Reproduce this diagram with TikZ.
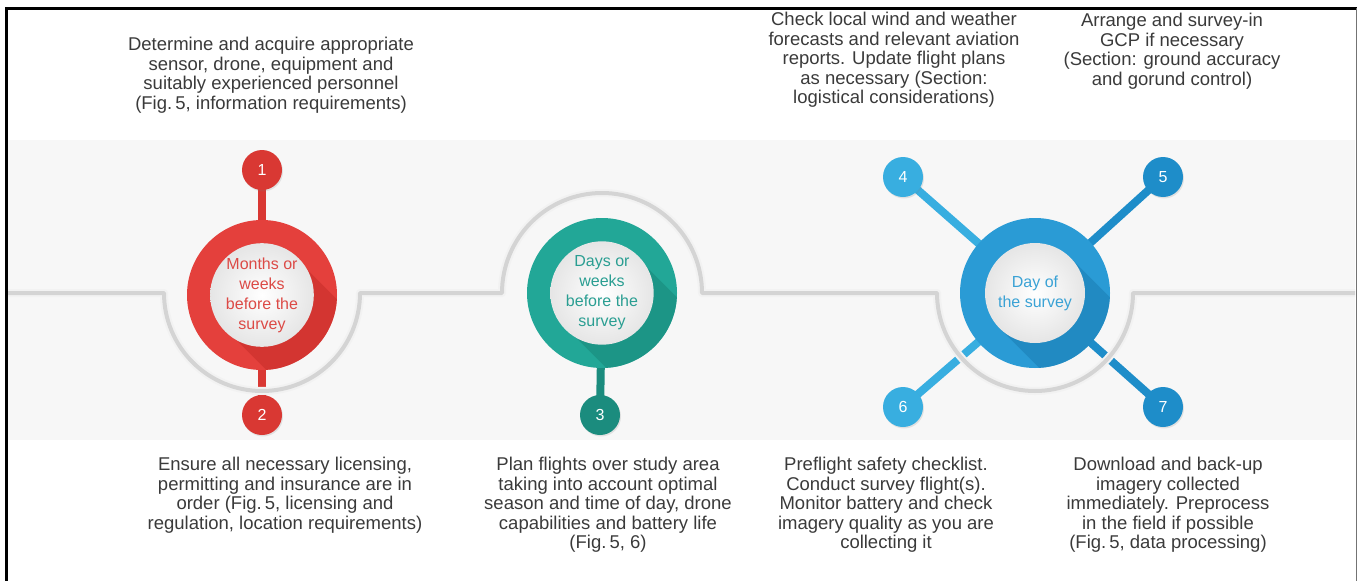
\documentclass[tikz,border=0pt]{standalone}
\usepackage{fontspec}
\setmainfont{Liberation Sans}
\usetikzlibrary{calc,shadows}
\definecolor{notegray}{HTML}{3A3A3A}
\definecolor{redring}{HTML}{E4403C}
\definecolor{redshade}{HTML}{C92E2B}
\definecolor{redbadge}{HTML}{D93833}
\definecolor{redtext}{HTML}{DC4A46}
\definecolor{tealring}{HTML}{22A797}
\definecolor{tealshade}{HTML}{188A7C}
\definecolor{tealbadge}{HTML}{1B8C7E}
\definecolor{tealtext}{HTML}{2A9E92}
\definecolor{bluering}{HTML}{2A9BD5}
\definecolor{blueshade}{HTML}{1C7FB6}
\definecolor{bluelite}{HTML}{38AEE0}
\definecolor{bluedark}{HTML}{1E8DC9}
\definecolor{bluetext}{HTML}{3AA2D5}
\tikzset{
  ring/.style={
    % The shape:
    circle,
    % The size:
    minimum size=150pt, inner sep=0pt,
    % The filling:
    fill=#1},
  core/.style={
    % The shape:
    circle,
    minimum size=100pt, inner sep=0pt,
    % The rest
    inner color=white, outer color=black!10,
    text=#1, align=center, font=\fontsize{16}{20}\selectfont},
  badge/.style={
    % The shape:
    circle,
    minimum size=40pt, inner sep=0pt,
    % The rest
    fill=#1, text=white, font=\fontsize{16}{16}\selectfont,
    drop shadow={opacity=0.18, shadow xshift=1pt, shadow yshift=-1.5pt}},
  note/.style={
    align=center, inner sep=0pt,
    text=notegray, font=\fontsize{18.5}{19.5}\selectfont},
  stem/.style={line width=8pt, draw=#1},
  timeline/.style={line width=#1, line join=round}
}
% neck between a badge and its stem
\newcommand\neck[3]{%
  \fill[#3] ($(#1)!17pt!40:(#2)$) to[bend right=30] ($(#1)!31pt!(#2)$)
    to[bend right=30] ($(#1)!17pt!-40:(#2)$) -- cycle;}
% darker cast shadow inside a ring
\newcommand\ringshade[2]{%
  \begin{scope}
    \clip (#1) circle[radius=75pt];
    \fill[#2,opacity=0.6] ($(#1)+(45:50pt)$) -- ++(-45:130pt)
      -- ($(#1)+(225:50pt)+(-45:130pt)$) -- ($(#1)+(225:50pt)$) -- cycle;
  \end{scope}}

\begin{document}
\begin{tikzpicture}[x=1pt,y=1pt]
  \useasboundingbox (0,0) rectangle (1358,-581);
  % background band
  \fill[black!3] (8,-140) rectangle (1355,-440);
  % frame
  \draw[line width=3pt] (6,-581) -- (6,-8) -- (1357,-8);
  \draw[black!55,line width=1pt] (1356,-8) -- (1356,-581);

  % centres and badge places
  \coordinate (c1) at (262,-295);
  \coordinate (c2) at (602,-293);
  \coordinate (c3) at (1035,-293);
  \coordinate (p1) at (262,-170);
  \coordinate (p2) at (262,-415);
  \coordinate (p3) at (600,-415);
  \foreach \n/\dx/\dy in {4/-132/116,5/128/116,6/-132/-114,7/128/-114}
    \coordinate (p\n) at ($(c3)+(\dx,\dy)$);

  % stems and spokes
  \draw[stem=redbadge] (p1) -- (c1) -- (p2);
  \draw[stem=tealbadge] (c2) -- (p3);
  \draw[stem=bluelite] (p4) -- (c3) -- (p6);
  \draw[stem=bluedark] (p5) -- (c3) -- (p7);
  \neck{p1}{c1}{redbadge}
  \neck{p2}{c1}{redbadge}
  \neck{p3}{c2}{tealbadge}
  \neck{p4}{c3}{bluelite}
  \neck{p6}{c3}{bluelite}
  \neck{p5}{c3}{bluedark}
  \neck{p7}{c3}{bluedark}

  % timeline with its detours
  \foreach \w/\col in {8pt/black!5,4pt/black!17}
    \draw[timeline=\w,\col] (8,-293) -- (164,-293)
      arc[start angle=180,end angle=360,radius=98] -- (502,-293)
      arc[start angle=180,end angle=0,radius=100] -- (937,-293)
      arc[start angle=180,end angle=360,radius=98] -- (1355,-293);

  % rings
  \node (r1) [ring=redring] at (c1) {};
  \node (r2) [ring=tealring] at (c2) {};
  \node (r3) [ring=bluering] at (c3) {};
  \ringshade{c1}{redshade}
  \ringshade{c2}{tealshade}
  \ringshade{c3}{blueshade}
  \node (m1) [core=redtext] at (c1) {Months or\\weeks\\before the\\survey};
  \node (m2) [core=tealtext] at (c2) {Days or\\weeks\\before the\\survey};
  \node (m3) [core=bluetext] at (c3) {Day of\\the survey};

  % badges
  \node (b1) [badge=redbadge] at (p1) {1};
  \node (b2) [badge=redbadge] at (p2) {2};
  \node (b3) [badge=tealbadge] at (p3) {3};
  \foreach \n/\col in {4/bluelite,5/bluedark,6/bluelite,7/bluedark}
    \node (b\n) [badge=\col] at (p\n) {\n};

  % notes
  \node (t1) [note] at (271,-75) {Determine and acquire appropriate\\sensor, drone, equipment and\\suitably experienced personnel\\(Fig.\,5, information requirements)};
  \node (t4) [note] at (894,-60) {Check local wind and weather\\forecasts and relevant aviation\\reports. Update flight plans\\as necessary (Section:\\logistical considerations)};
  \node (t5) [note] at (1172,-51) {Arrange and survey-in\\GCP if necessary\\(Section: ground accuracy\\and gorund control)};
  \node (t2) [note] at (285,-495) {Ensure all necessary licensing,\\permitting and insurance are in\\order (Fig.\,5, licensing and\\regulation, location requirements)};
  \node (t3) [note] at (608,-505) {Plan flights over study area\\taking into account optimal\\season and time of day, drone\\capabilities and battery life\\(Fig.\,5, 6)};
  \node (t6) [note] at (886,-505) {Preflight safety checklist.\\Conduct survey flight(s).\\Monitor battery and check\\imagery quality as you are\\collecting it};
  \node (t7) [note] at (1168,-505) {Download and back-up\\imagery collected\\immediately. Preprocess\\in the field if possible\\(Fig.\,5, data processing)};
\end{tikzpicture}
\end{document}
